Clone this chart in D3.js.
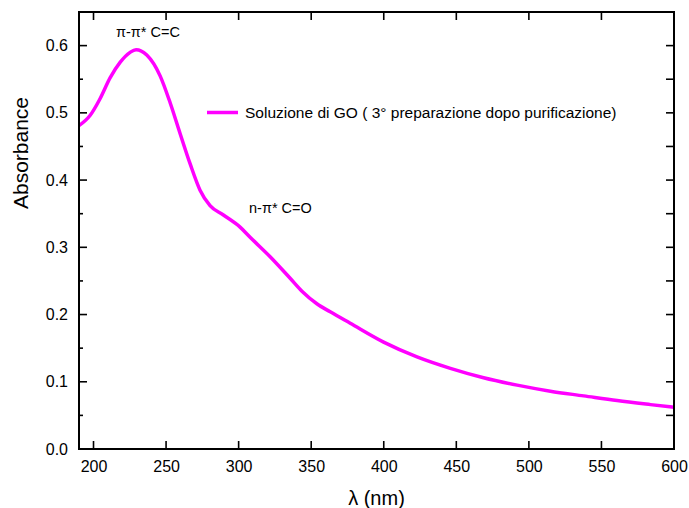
<!DOCTYPE html>
<html>
<head>
<meta charset="utf-8">
<script src="https://cdn.jsdelivr.net/npm/d3@7"></script>
<style>
  body { margin: 0; background: #fff; }
</style>
</head>
<body>
<div id="chart"></div>
<script>
// spectrum
var wavelength = [190, 197.6, 204.5, 211.4, 218.3, 225.2, 229.3, 236.7, 245.9, 252.8, 259.7, 266.6, 273.4, 280.3, 289.5, 301, 307.9, 321.7, 335.5, 344, 353.9, 363.1, 376.9, 399.9, 422.9, 445.9, 468.8, 491.9, 514.8, 537.8, 560.8, 583.8, 600];
var absorbance = [0.481, 0.496, 0.521, 0.552, 0.575, 0.590, 0.594, 0.586, 0.555, 0.515, 0.469, 0.424, 0.385, 0.362, 0.348, 0.330, 0.315, 0.286, 0.254, 0.234, 0.216, 0.204, 0.187, 0.159, 0.137, 0.120, 0.106, 0.095, 0.086, 0.079, 0.072, 0.066, 0.062];
var xTicks = [200, 250, 300, 350, 400, 450, 500, 550, 600];
var yTicks = [0.0, 0.1, 0.2, 0.3, 0.4, 0.5, 0.6];
var yMinor = [0.05, 0.15, 0.25, 0.35, 0.45, 0.55];
var seriesName = "Soluzione di GO ( 3° preparazione dopo purificazione)";

var svgW = 689, svgH = 508;
var margin = { top: 12, right: 15, bottom: 59, left: 79 };
var chartW = svgW - margin.left - margin.right;
var chartH = svgH - margin.top - margin.bottom;
var font = "Liberation Sans, Arial, sans-serif";

var svg = d3.select("#chart").append("svg")
    .attr("width", svgW)
    .attr("height", svgH)
    .attr("font-family", font);

var chartG = svg.append("g")
    .attr("transform", `translate(${margin.left}, ${margin.top})`);

var xScale = d3.scaleLinear().domain([190, 600]).range([margin.left, margin.left + chartW]);
var yScale = d3.scaleLinear().domain([0, 0.65]).range([margin.top + chartH, margin.top]);

var data = wavelength.map(function(w, i) { return { x: w, y: absorbance[i] }; });

// curve
var line = d3.line()
    .x(function(d) { return xScale(d.x) })
    .y(function(d) { return yScale(d.y) })
    .curve(d3.curveMonotoneX);

svg.append("path")
    .datum(data)
    .attr("d", line)
    .attr("fill", "none")
    .attr("stroke", "#ff00ff")
    .attr("stroke-width", 3.5);

// tick labels from d3 axes
var bAxis = d3.axisBottom(xScale).tickValues(xTicks).tickSize(0).tickPadding(12);
var lAxis = d3.axisLeft(yScale).tickValues(yTicks).tickSize(0).tickPadding(11)
    .tickFormat(d3.format(".1f"));

function styleAxis(g) {
    g.select(".domain").remove();
    g.selectAll(".tick text").attr("font-size", 16).attr("font-family", font).attr("fill", "#000");
}

svg.append("g").attr("transform", `translate(0, ${margin.top + chartH})`).call(bAxis).call(styleAxis);
svg.append("g").attr("transform", `translate(${margin.left}, 0)`).call(lAxis).call(styleAxis);

// inward tick marks, drawn straight on the svg
var x0 = margin.left, x1 = margin.left + chartW;
var y0 = margin.top, y1 = margin.top + chartH;
var allY = yTicks.concat(yMinor);

xTicks.forEach(function(d) {
    svg.append("line").attr("x1", xScale(d)).attr("x2", xScale(d)).attr("y1", y1).attr("y2", y1 - 8)
        .attr("stroke", "#000").attr("stroke-width", 1.6);
    svg.append("line").attr("x1", xScale(d)).attr("x2", xScale(d)).attr("y1", y0).attr("y2", y0 + 8)
        .attr("stroke", "#000").attr("stroke-width", 1.6);
});

allY.forEach(function(d, i) {
    svg.append("line").attr("x1", x0).attr("x2", x0 + (i < yTicks.length ? 8 : 4))
        .attr("y1", yScale(d)).attr("y2", yScale(d))
        .attr("stroke", "#000").attr("stroke-width", 1.6);
    svg.append("line").attr("x1", x1).attr("x2", x1 - 8)
        .attr("y1", yScale(d)).attr("y2", yScale(d))
        .attr("stroke", "#000").attr("stroke-width", 1.6);
});

// frame
svg.append("rect")
    .attr("x", x0)
    .attr("y", y0)
    .attr("width", chartW)
    .attr("height", chartH)
    .attr("fill", "none")
    .attr("stroke", "#000")
    .attr("stroke-width", 2);

// axis titles
svg.append("text")
    .attr("transform", "translate(28, 153) rotate(-90)")
    .attr("text-anchor", "middle")
    .attr("font-size", 21)
    .text("Absorbance");

svg.append("text")
    .attr("x", margin.left + chartW / 2)
    .attr("y", 505)
    .attr("text-anchor", "middle")
    .attr("font-size", 20)
    .text("λ (nm)");

// peak labels
svg.append("text")
    .attr("x", 116)
    .attr("y", 37)
    .attr("font-size", 14.5)
    .text("π-π* C=C");

svg.append("text")
    .attr("x", 249)
    .attr("y", 213)
    .attr("font-size", 14.5)
    .text("n-π* C=O");

// legend
svg.append("line")
    .attr("x1", 207).attr("x2", 238)
    .attr("y1", 112.5).attr("y2", 112.5)
    .attr("stroke", "#ff00ff")
    .attr("stroke-width", 3.5);

svg.append("text")
    .attr("x", 245)
    .attr("y", 118)
    .attr("font-size", 15.5)
    .text(seriesName);
</script>
</body>
</html>
